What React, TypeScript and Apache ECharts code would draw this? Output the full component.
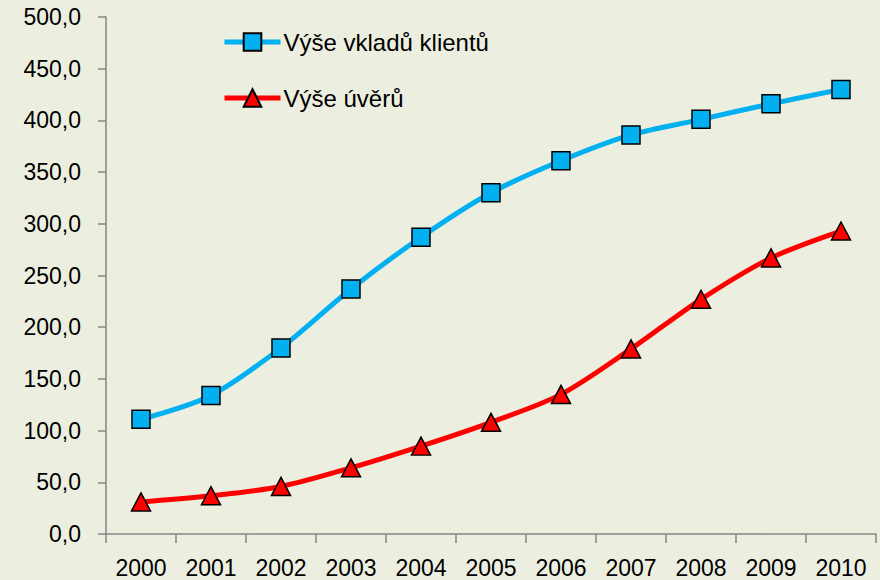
import React, { useEffect, useRef } from "react";
import * as echarts from "echarts";

const years = ["2000", "2001", "2002", "2003", "2004", "2005", "2006", "2007", "2008", "2009", "2010"];
const deposits = [111, 134, 180, 237, 287, 330, 361, 386, 401, 416, 430];
const loans = [31, 37, 46, 64, 85, 108, 135, 179, 227, 267, 293];
const seriesNames = ["Výše vkladů klientů", "Výše úvěrů"];

const FONT = "Liberation Sans";

export default function App() {
  const ref = useRef<HTMLDivElement>(null);
  useEffect(() => {
    if (!ref.current) return;
    const chart = echarts.init(ref.current, null, { renderer: "svg" });
    chart.setOption({
      animation: false,
      backgroundColor: "#ECEFE0",
      textStyle: { fontFamily: FONT },
      grid: { left: 106, right: 4, top: 17, bottom: 46, containLabel: false },
      legend: {
        orient: "vertical",
        left: 222,
        top: 30,
        padding: 0,
        itemGap: 32,
        itemWidth: 56,
        itemHeight: 22,
        lineStyle: { width: 5 },
        textStyle: { fontFamily: FONT, fontSize: 24, color: "#000", padding: [0, 0, 0, -2] },
        data: seriesNames,
      },
      xAxis: {
        type: "category",
        data: years,
        boundaryGap: true,
        axisLine: { lineStyle: { color: "#868686", width: 1.5 } },
        axisTick: { show: true, length: 9, alignWithLabel: false, lineStyle: { color: "#868686", width: 1.5 } },
        axisLabel: { fontFamily: FONT, fontSize: 23, color: "#000", margin: 22 },
        splitLine: { show: false },
      },
      yAxis: {
        type: "value",
        min: 0,
        max: 500,
        interval: 50,
        axisLine: { show: true, lineStyle: { color: "#868686", width: 1.5 } },
        axisTick: { show: true, length: 8, lineStyle: { color: "#868686", width: 1.5 } },
        axisLabel: {
          fontFamily: FONT,
          fontSize: 23,
          color: "#000",
          margin: 25,
          formatter: (v: number) => v.toFixed(1).replace(".", ","),
        },
        splitLine: { show: false },
      },
      series: [
        {
          name: seriesNames[0],
          type: "line",
          data: deposits,
          smooth: 0.3,
          symbol: "rect",
          symbolSize: 18,
          lineStyle: { color: "#00B0F0", width: 5 },
          itemStyle: { color: "#00B0F0", borderColor: "#000", borderWidth: 1.5 },
          z: 3,
        },
        {
          name: seriesNames[1],
          type: "line",
          data: loans,
          smooth: 0.3,
          symbol: "triangle",
          symbolSize: [19, 18],
          lineStyle: { color: "#FF0000", width: 5 },
          itemStyle: { color: "#FF0000", borderColor: "#000", borderWidth: 1.5 },
          z: 2,
        },
      ],
    });
    return () => chart.dispose();
  }, []);
  return <div ref={ref} style={{ width: 880, height: 580, position: "absolute", left: 0, top: 0 }} />;
}
